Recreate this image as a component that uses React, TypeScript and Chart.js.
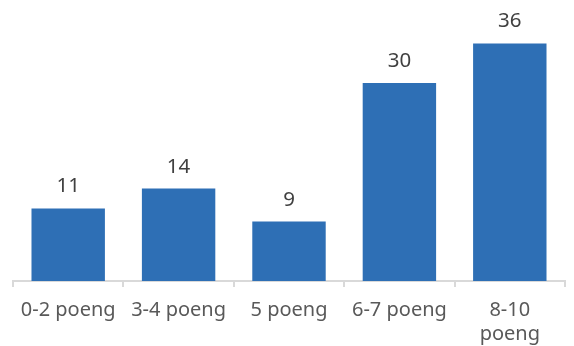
import React, { useEffect, useRef } from "react";
import { Chart, registerables } from "chart.js";

Chart.register(...registerables);

const categories: (string | string[])[] = ["0-2 poeng", "3-4 poeng", "5 poeng", "6-7 poeng", ["8-10", "poeng"]];
const values: number[] = [11, 14, 9, 30, 36];

const FONT = "'Noto Sans', sans-serif";

const valueLabels = {
  id: "valueLabels",
  afterDatasetsDraw(chart: any) {
    const ctx = chart.ctx;
    const meta = chart.getDatasetMeta(0);
    ctx.save();
    ctx.font = `20.5px ${FONT}`;
    ctx.fillStyle = "#404040";
    ctx.textAlign = "center";
    ctx.textBaseline = "alphabetic";
    meta.data.forEach((bar: any, i: number) => {
      ctx.fillText(String(values[i]), bar.x, bar.y - 16);
    });
    ctx.restore();
  },
};

export default function App() {
  const ref = useRef<HTMLCanvasElement | null>(null);
  useEffect(() => {
    document.body.style.margin = "0";
    const chart = new Chart(ref.current!, {
      type: "bar",
      data: {
        labels: categories,
        datasets: [
          {
            data: values,
            backgroundColor: "#2E6FB5",
            borderWidth: 0,
            barPercentage: 0.665,
            categoryPercentage: 1,
          },
        ],
      },
      options: {
        animation: false,
        responsive: false,
        maintainAspectRatio: false,
        layout: { padding: { left: 13, right: 9, top: 17, bottom: -11 } },
        plugins: { legend: { display: false }, tooltip: { enabled: false } },
        scales: {
          y: { display: false, min: 0, max: 40 },
          x: {
            grid: {
              display: true,
              drawOnChartArea: false,
              drawTicks: true,
              tickLength: 6,
              color: "#D9D9D9",
              lineWidth: 2,
            },
            border: { display: true, color: "#D9D9D9", width: 2 },
            ticks: {
              color: "#595959",
              font: { family: FONT, size: 20, lineHeight: 1.2 },
              padding: 11,
              maxRotation: 0,
              autoSkip: false,
            },
          },
        },
      },
      plugins: [valueLabels],
    });
    return () => chart.destroy();
  }, []);
  return <canvas ref={ref} width={574} height={346} style={{ display: "block" }} />;
}
